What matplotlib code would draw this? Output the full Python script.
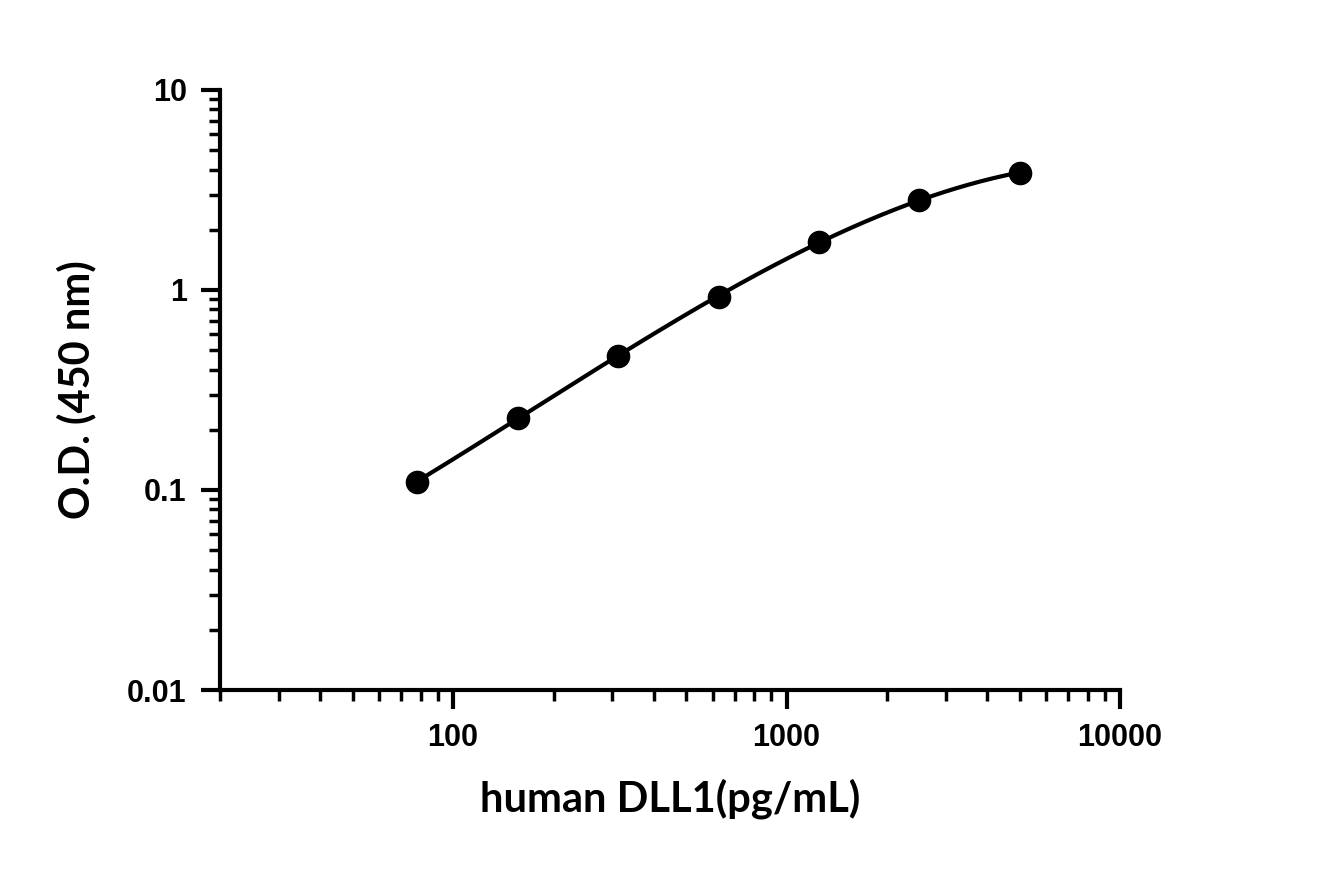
import numpy as np
import matplotlib
matplotlib.use('Agg')
import matplotlib.pyplot as plt
from matplotlib.ticker import LogLocator, NullFormatter, FixedLocator, FixedFormatter

conc = [78.125, 156.25, 312.5, 625, 1250, 2500, 5000]
od = [0.11, 0.23, 0.47, 0.92, 1.73, 2.83, 3.85]
x_ticks = [100, 1000, 10000]
x_tick_labels = ['100', '1000', '10000']
y_ticks = [0.01, 0.1, 1, 10]
y_tick_labels = ['0.01', '0.1', '1', '10']

fig = plt.figure(figsize=(13.19, 8.73), dpi=100)
ax = fig.add_axes([0.1668, 0.2096, 0.6824, 0.6874])

# smooth curve: quadratic fit in log-log space
lx, ly = np.log10(conc), np.log10(od)
coef = np.polyfit(lx, ly, 3)
xs = np.linspace(lx[0], lx[-1], 200)
ax.plot(10**xs, 10**np.polyval(coef, xs), color='black', linewidth=3)
ax.plot(conc, od, 'o', color='black', markersize=16)

ax.set_xscale('log')
ax.set_yscale('log')
ax.set_xlim(20, 10000)
ax.set_ylim(0.01, 10)
for s in ['top', 'right']:
    ax.spines[s].set_visible(False)
for s in ['left', 'bottom']:
    ax.spines[s].set_linewidth(3)

ax.xaxis.set_major_locator(FixedLocator(x_ticks))
ax.xaxis.set_major_formatter(FixedFormatter(x_tick_labels))
ax.yaxis.set_major_locator(FixedLocator(y_ticks))
ax.yaxis.set_major_formatter(FixedFormatter(y_tick_labels))
ax.xaxis.set_minor_locator(LogLocator(base=10, subs=np.arange(2, 10), numticks=20))
ax.yaxis.set_minor_locator(LogLocator(base=10, subs=np.arange(2, 10), numticks=20))
ax.xaxis.set_minor_formatter(NullFormatter())
ax.yaxis.set_minor_formatter(NullFormatter())
ax.tick_params(which='major', width=3, length=14, labelsize=22, pad=10)
ax.tick_params(which='minor', width=2.5, length=8)
for lab in ax.get_xticklabels() + ax.get_yticklabels():
    lab.set_fontweight('bold')
    lab.set_family(['Liberation Sans Narrow', 'Liberation Sans'])

ax.set_xlabel('human DLL1(pg/mL)', fontsize=30, fontweight='bold', family='Lato', labelpad=18)
ax.set_ylabel('O.D. (450 nm)', fontsize=30, fontweight='bold', family='Lato', labelpad=22)

plt.savefig('out.png')
